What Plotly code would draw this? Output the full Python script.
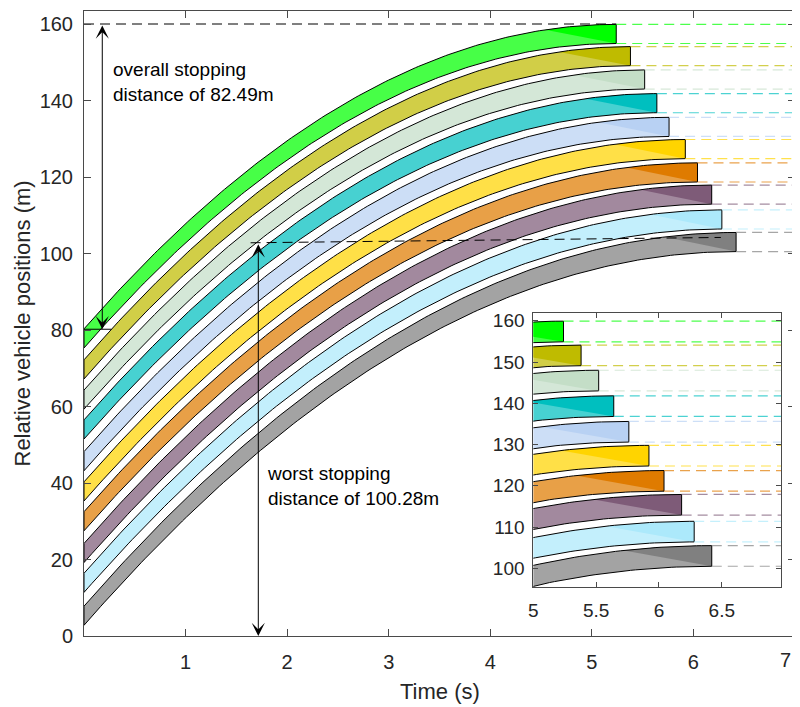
import numpy as np
import plotly.graph_objects as go

# ---- data ----
vehicle_colors = ['#00ff00', '#bfbb00', '#c4dec7', '#00bfbf', '#b8d1f3',
                  '#ffd400', '#df7b00', '#7e5b78', '#ace9fb', '#808080']
front_start = [80.3, 72.2, 64.3, 56.5, 48.2, 40.3, 32.5, 24.2, 16.4, 7.8]     # m at t=0
front_stop = [159.9, 154.1, 148.0, 141.8, 135.6, 129.8, 123.7, 117.9, 111.4, 105.5]  # m
stop_time = [5.24, 5.38, 5.52, 5.64, 5.76, 5.92, 6.04, 6.18, 6.28, 6.42]     # s
vehicle_length = [5.0] * 10

main_xticks = [1, 2, 3, 4, 5, 6, 7]
main_yticks = [0, 20, 40, 60, 80, 100, 120, 140, 160]
inset_xticks = [5, 5.5, 6, 6.5]
inset_xticklabels = ['5', '5.5', '6', '6.5']
inset_yticks = [100, 110, 120, 130, 140, 150, 160]

overall_text = 'overall stopping<br>distance of 82.49m'
worst_text = 'worst stopping<br>distance of 100.28m'

FONT = 'Liberation Sans, Arial, Helvetica, sans-serif'
AX = '#262626'


def rgba(h, a):
    h = h.lstrip('#')
    r, g, b = int(h[0:2], 16), int(h[2:4], 16), int(h[4:6], 16)
    return f'rgba({r},{g},{b},{a})'


def trajectory(p0, pf, ts, t):
    # constant deceleration from the read start/stop positions and stop time
    v0 = 2.0 * (pf - p0) / ts
    a = v0 / ts
    return p0 + v0 * t - 0.5 * a * t ** 2


fig = go.Figure()

for xa, ya in (('x', 'y'), ('x2', 'y2')):
    xend = 7.0
    for i, col in enumerate(vehicle_colors):
        p0, pf, ts, L = front_start[i], front_stop[i], stop_time[i], vehicle_length[i]
        t = np.linspace(0, ts, 160)
        front = trajectory(p0, pf, ts, t)
        rear = front - L
        px = np.concatenate([t, t[::-1], [t[0]]])
        py = np.concatenate([front, rear[::-1], [front[0]]])
        # light body
        fig.add_trace(go.Scatter(x=px, y=py, xaxis=xa, yaxis=ya, mode='lines',
                                 fill='toself', fillcolor=rgba(col, 0.72),
                                 line=dict(width=0), hoverinfo='skip'))
        # darker end triangle
        d = 0.7
        tt = np.linspace(ts - d, ts, 40)
        ft = trajectory(p0, pf, ts, tt)
        tx = np.concatenate([tt, [ts, tt[0]]])
        ty = np.concatenate([ft, [pf - L, ft[0]]])
        fig.add_trace(go.Scatter(x=tx, y=ty, xaxis=xa, yaxis=ya, mode='lines',
                                 fill='toself', fillcolor=col,
                                 line=dict(width=0), hoverinfo='skip'))
        # outline
        fig.add_trace(go.Scatter(x=px, y=py, xaxis=xa, yaxis=ya, mode='lines',
                                 line=dict(color='black', width=1), hoverinfo='skip'))
        # dashed stop lines
        fig.add_trace(go.Scatter(x=[ts, xend, None, ts, xend],
                                 y=[pf, pf, None, pf - L, pf - L],
                                 xaxis=xa, yaxis=ya, mode='lines',
                                 line=dict(color=rgba(col, 0.7), width=1.2, dash='10px,6px'),
                                 hoverinfo='skip'))

# black dashed reference lines (main axes)
fig.add_trace(go.Scatter(x=[0, stop_time[0]], y=[160, 160], mode='lines',
                         line=dict(color='black', width=1, dash='10px,6px'), hoverinfo='skip'))
fig.add_trace(go.Scatter(x=[0, 0.27], y=[80.2, 80.2], mode='lines',
                         line=dict(color='black', width=1), hoverinfo='skip'))
fig.add_trace(go.Scatter(x=[1.64, 6.27], y=[102.8, 104.2], mode='lines',
                         line=dict(color='black', width=1, dash='10px,6px'), hoverinfo='skip'))

annotations = [
    dict(x=0.18, y=80.2, ax=0.18, ay=160, xref='x', yref='y', axref='x', ayref='y',
         text='', showarrow=True, arrowside='end+start', arrowhead=3, startarrowhead=3,
         arrowsize=2.2, startarrowsize=2.2, arrowwidth=1, arrowcolor='black',
         standoff=0, startstandoff=0),
    dict(x=1.716, y=0, ax=1.716, ay=102.8, xref='x', yref='y', axref='x', ayref='y',
         text='', showarrow=True, arrowside='end+start', arrowhead=3, startarrowhead=3,
         arrowsize=2.2, startarrowsize=2.2, arrowwidth=1, arrowcolor='black',
         standoff=0, startstandoff=0),
    dict(x=0.262, y=144.8, xref='x', yref='y', text=overall_text, showarrow=False,
         xanchor='left', yanchor='middle', align='left',
         font=dict(family=FONT, size=19, color='black')),
    dict(x=1.785, y=39.2, xref='x', yref='y', text=worst_text, showarrow=False,
         xanchor='left', yanchor='middle', align='left',
         font=dict(family=FONT, size=19, color='black')),
    dict(x=0.5, y=0, xref='paper', yref='paper', text='Time (s)', showarrow=False,
         xanchor='center', yanchor='middle', yshift=-55,
         font=dict(family=FONT, size=22, color=AX)),
    dict(x=0, y=0.5, xref='paper', yref='paper', text='Relative vehicle positions (m)',
         showarrow=False, textangle=-90, xanchor='center', yanchor='middle', xshift=-62,
         font=dict(family=FONT, size=22, color=AX)),
    # last x tick label, nudged inward so the window edge does not hide it
    dict(x=main_xticks[-1], y=0, xref='x', yref='y', text=str(main_xticks[-1]),
         showarrow=False, xanchor='right', yanchor='middle', xshift=-2, yshift=-24,
         font=dict(family=FONT, size=20, color=AX)),
]

axis_common = dict(showgrid=False, zeroline=False, showline=True, linecolor='#4a4a4a',
                   linewidth=1, mirror='ticks', ticks='inside', tickcolor='#4a4a4a',
                   tickwidth=1, automargin=False, ticklabeloverflow='allow')

# the page body adds an 8px margin, so the figure is sized/offset to compensate
fig.update_layout(
    width=792, height=699,
    margin=dict(l=76, r=5, t=3, b=71, autoexpand=False),
    paper_bgcolor='white', plot_bgcolor='white',
    showlegend=False,
    template='none',
    font=dict(family=FONT, color=AX),
    xaxis=dict(domain=[0, 1], range=[0, 7], tickvals=main_xticks,
               ticktext=[str(v) for v in main_xticks[:-1]] + [''], ticklen=7,
               tickfont=dict(size=20, color=AX), ticklabelstandoff=8, **axis_common),
    yaxis=dict(domain=[0, 1], range=[0, 163.4], tickvals=main_yticks, ticklen=7,
               tickfont=dict(size=20, color=AX), ticklabelstandoff=6, **axis_common),
    xaxis2=dict(domain=[0.632, 0.981], anchor='y2', range=[5, 6.975], tickvals=inset_xticks,
                ticktext=inset_xticklabels, ticklen=5, tickfont=dict(size=19, color=AX),
                ticklabelstandoff=6, **axis_common),
    yaxis2=dict(domain=[0.0779, 0.5163], anchor='x2', range=[95.4, 161.8], tickvals=inset_yticks,
                ticklen=5, tickfont=dict(size=19, color=AX), ticklabelstandoff=4, **axis_common),
    annotations=annotations,
)

fig.write_html('out.html')
